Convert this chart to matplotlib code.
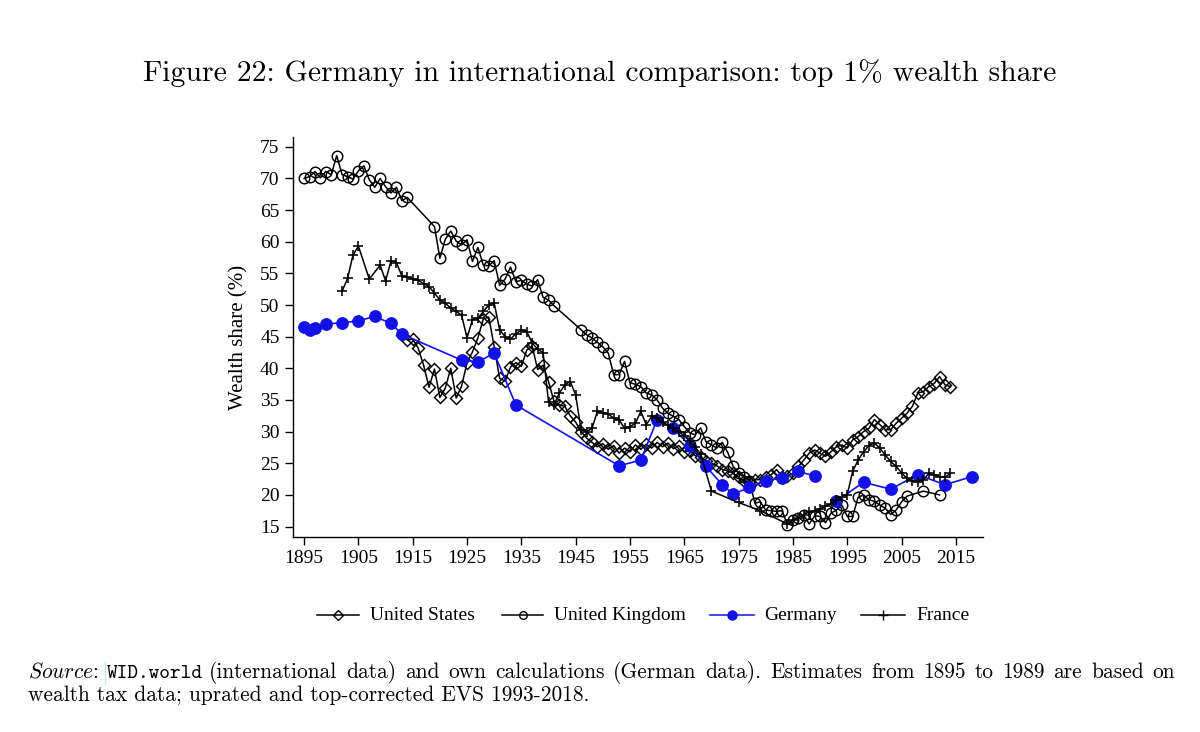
import matplotlib
matplotlib.use('Agg')
import matplotlib.pyplot as plt
import numpy as np
from matplotlib.lines import Line2D

# ---------------- data ----------------
us_years = list(range(1913, 2015))
us_vals = [45.2, 44.5, 44.6, 43.2, 40.5, 37.0, 39.9, 35.4, 36.9, 40.0,
           35.3, 37.2, 40.9, 42.6, 44.8, 47.8, 48.1, 43.4, 38.4, 38.0,
           40.2, 40.9, 40.3, 42.9, 43.5, 39.8, 40.5, 37.9, 34.8, 34.2,
           34.0, 32.5, 31.5, 30.0, 29.0, 28.3, 27.6, 28.1, 27.2, 27.8,
           26.6, 27.4, 26.8, 27.9, 27.2, 28.0, 27.4, 28.3, 27.6, 28.2,
           27.3, 27.8, 26.8, 27.0, 26.2, 26.0, 25.3, 25.0, 24.6, 24.0,
           23.8, 23.4, 22.8, 22.2, 22.0, 22.4, 22.4, 22.8, 23.2, 24.0,
           22.9, 23.0, 23.4, 24.5, 25.5, 26.6, 27.1, 26.6, 26.1, 26.8,
           27.6, 27.9, 27.4, 28.7, 29.2, 30.0, 30.5, 31.9, 31.1, 30.3,
           30.3, 31.3, 32.1, 32.9, 34.0, 36.1, 36.3, 37.1, 37.6, 38.7,
           37.4, 37.1]

uk_years = (list(range(1895, 1915)) + list(range(1919, 1942)) +
            list(range(1946, 2007)) + [2009, 2012])
uk_vals = [70.0, 70.3, 71.1, 70.1, 71.1, 70.6, 73.6, 70.6, 70.3, 69.9,
           71.2, 72.0, 69.8, 68.6, 70.0, 68.7, 67.7, 68.6, 66.5, 67.0,
           62.4, 57.4, 60.4, 61.7, 60.1, 59.5, 60.3, 56.9, 59.1, 56.3,
           56.2, 57.0, 53.1, 54.1, 56.0, 53.7, 53.9, 53.3, 53.0, 54.0,
           51.2, 50.8, 49.9,
           46.1, 45.3, 44.8, 44.1, 43.4, 42.4, 39.0, 39.0, 41.1, 37.7,
           37.5, 37.1, 36.1, 35.8, 35.0, 33.7, 32.9, 32.4, 31.9, 30.8,
           29.8, 29.5, 30.6, 28.4, 27.9, 27.4, 28.3, 26.7, 24.5, 23.4,
           22.8, 22.2, 18.7, 18.9, 17.6, 17.5, 17.4, 17.5, 15.3, 16.1,
           16.3, 16.8, 15.4, 16.7, 16.6, 15.6, 17.1, 17.6, 18.4, 16.6,
           16.6, 19.6, 20.0, 19.2, 19.0, 18.4, 17.9, 16.9, 17.6, 18.9,
           19.8, 20.6, 20.0]

de_years = [1895, 1896, 1897, 1899, 1902, 1905, 1908, 1911, 1913, 1924,
            1927, 1930, 1934, 1953, 1957, 1960, 1963, 1966, 1969, 1972,
            1974, 1977, 1980, 1983, 1986, 1989, 1991,
            1993, 1998, 2003, 2008, 2013, 2018]
de_vals = [46.6, 46.1, 46.3, 47.0, 47.2, 47.5, 48.2, 47.1, 45.4, 41.3,
           41.0, 42.4, 34.2, 24.6, 25.5, 31.9, 30.5, 27.8, 24.5, 21.6,
           20.1, 21.2, 22.2, 22.7, 23.7, 23.0, np.nan,
           19.0, 22.0, 20.9, 23.2, 21.6, 22.9]

fr_years = ([1902, 1903, 1904, 1905, 1907] + list(range(1909, 1969)) +
            [1970, 1975, 1979] + list(range(1984, 2015)))
fr_vals = [52.2, 54.2, 57.9, 59.3, 54.1,
           56.3, 53.8, 57.0, 56.7, 54.6, 54.4, 54.1, 53.9, 53.4, 52.9,
           51.9, 50.8, 50.3, 49.5, 49.0, 48.4, 44.8, 47.7, 47.9, 49.0,
           50.0, 50.3, 46.1, 45.0, 44.6, 45.5, 46.0, 45.8, 44.0, 43.0,
           42.5, 34.7, 34.2, 36.1, 37.4, 37.9, 35.8, 30.3, 30.0, 30.5,
           33.2, 33.0, 32.8, 32.1, 31.9, 30.5, 30.8, 31.3, 33.2, 31.1,
           32.4, 32.1, 31.5, 31.0, 30.5, 30.0, 29.3, 28.5, 27.5, 26.5,
           20.6, 18.8, 17.5,
           15.4, 16.0, 16.4, 16.9, 17.3, 17.5, 17.8, 18.2, 18.6, 19.2,
           19.6, 20.0, 23.7, 25.5, 26.8, 27.8, 28.2, 27.4, 26.3, 25.3,
           24.5, 23.5, 22.6, 22.2, 22.1, 22.3, 23.4, 23.2, 22.9, 22.8,
           23.4]

x_ticks = list(range(1895, 2016, 10))
y_ticks = list(range(15, 76, 5))
series_names = ["United States", "United Kingdom", "Germany", "France"]

title_text = "Figure 22: Germany in international comparison: top 1% wealth share"
source_label = r"$\mathit{Source}$:"
source_link = "WID.world"
source_rest1 = ("(international data) and own calculations (German data). "
                "Estimates from 1895 to 1989 are based on")
source_line2 = "wealth tax data; uprated and top-corrected EVS 1993-2018."

# ---------------- figure ----------------
plt.rcParams['mathtext.fontset'] = 'cm'
plt.rcParams['axes.unicode_minus'] = False
W, H = 1200, 732
fig = plt.figure(figsize=(12, 7.32), dpi=100)
fig.patch.set_facecolor('white')

ax = fig.add_axes([292.7 / W, 1 - 537.3 / H, (983 - 292.7) / W, (537.3 - 136.7) / H])

BLUE = '#1212e8'
ax.plot(us_years, us_vals, color='black', lw=1.1, marker='D', ms=6.0,
        mfc='none', mec='black', mew=1.05, zorder=3)
ax.plot(uk_years, uk_vals, color='black', lw=1.1, marker='o', ms=7.6,
        mfc='none', mec='black', mew=1.05, zorder=3)
ax.plot(de_years, de_vals, color=BLUE, lw=1.2, marker='o', ms=8.2,
        mfc=BLUE, mec=BLUE, zorder=4)
ax.plot(fr_years, fr_vals, color='black', lw=1.1, marker='+', ms=7.8,
        mew=1.15, zorder=5)

ax.set_xlim(1892.9, 2020.0)
ax.set_ylim(13.3, 76.6)
ax.set_xticks(x_ticks)
ax.set_yticks(y_ticks)
tick_font = dict(family='Liberation Serif', size=14)
ax.set_xticklabels([str(t) for t in x_ticks], **tick_font)
ax.set_yticklabels([str(t) for t in y_ticks], **tick_font)
ax.tick_params(direction='out', length=5.5, width=1.0, color='black', pad=4)
for s in ['top', 'right']:
    ax.spines[s].set_visible(False)
for s in ['left', 'bottom']:
    ax.spines[s].set_linewidth(1.0)
ax.set_ylabel("Wealth share (%)", family='Liberation Serif', size=15, labelpad=8)

# ---------------- legend (manual, figure pixel coords) ----------------
def fx(px):
    return px / W

def fy(py):
    return 1 - py / H

leg_y = 615
leg = [
    (316.7, 359.2, 370, dict(color='black', marker='D', ms=5.0, mfc='none', mec='black', mew=1.0)),
    (501.8, 543.4, 554, dict(color='black', marker='o', ms=5.5, mfc='none', mec='black', mew=1.0)),
    (710.0, 754.0, 764, dict(color=BLUE, marker='o', ms=6.5, mfc=BLUE, mec=BLUE)),
    (861.0, 905.0, 916, dict(color='black', marker='+', ms=7.0, mew=1.0)),
]
for (x0, x1, tx, st), name in zip(leg, series_names):
    fig.add_artist(Line2D([fx(x0), fx(x1)], [fy(leg_y), fy(leg_y)],
                          transform=fig.transFigure, lw=1.1,
                          color=st['color']))
    fig.add_artist(Line2D([fx((x0 + x1) / 2)], [fy(leg_y)],
                          transform=fig.transFigure, lw=0, **st))
    fig.text(fx(tx), fy(leg_y), name, family='Liberation Serif', size=14,
             ha='left', va='center')

# ---------------- title & source ----------------
renderer = fig.canvas.get_renderer()

def width_px(txt):
    return txt.get_window_extent(renderer=renderer).width

def fit(txt, target_px):
    txt.set_fontsize(txt.get_fontsize() * target_px / width_px(txt))

t = fig.text(0.5, fy(73), title_text, family='cmr10', size=20,
             ha='center', va='center')
fit(t, 914)

base1, base2 = 678, 701
# line 2 sets the natural font size (unjustified last line of the paragraph)
s2 = fig.text(fx(28), fy(base2), source_line2, family='cmr10', size=14,
              ha='left', va='baseline')
fit(s2, 590 - 28)
fs = s2.get_fontsize()

fig.text(fx(28), fy(base1), source_label, family='cmr10', size=fs,
         ha='left', va='baseline')
lk = fig.text(fx(107), fy(base1), source_link, family='cmtt10', size=fs,
              ha='left', va='baseline')
fit(lk, 96)
fig.add_artist(Line2D([fx(104.5), fx(104.5)], [fy(662), fy(684)],
                      transform=fig.transFigure, lw=0.9, color='#bfeef2'))

# justified first line: spread the words between x=209 and x=1175
words = source_rest1.split(' ')
wtexts = [fig.text(0, fy(base1), w, family='cmr10', size=fs,
                   ha='left', va='baseline') for w in words]
widths = [width_px(wt) for wt in wtexts]
left, right = 209.0, 1175.0
gap = (right - left - sum(widths)) / (len(words) - 1)
x = left
for wt, wd in zip(wtexts, widths):
    wt.set_x(fx(x))
    x += wd + gap

fig.savefig('out.png', dpi=100, facecolor='white')
